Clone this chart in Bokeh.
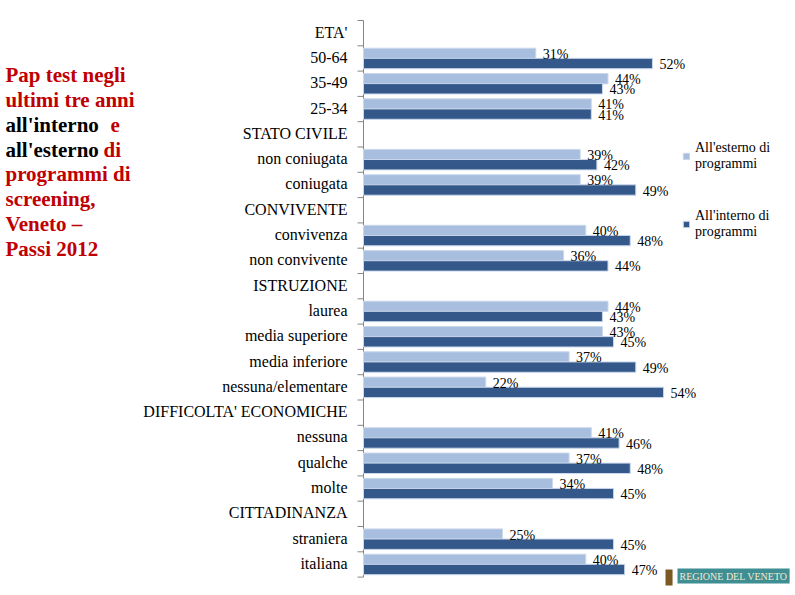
from bokeh.plotting import figure
from bokeh.models import Range1d, ColumnDataSource, Legend, LegendItem, Label
from bokeh.embed import file_html
from bokeh.resources import INLINE
from bokeh.core.properties import value

# ---------------- data ----------------
rows = ["ETA'", "50-64", "35-49", "25-34",
        "STATO CIVILE", "non coniugata", "coniugata",
        "CONVIVENTE", "convivenza", "non convivente",
        "ISTRUZIONE", "laurea", "media superiore", "media inferiore", "nessuna/elementare",
        "DIFFICOLTA' ECONOMICHE", "nessuna", "qualche", "molte",
        "CITTADINANZA", "straniera", "italiana"]

categories = ["50-64", "35-49", "25-34", "non coniugata", "coniugata",
              "convivenza", "non convivente", "laurea", "media superiore",
              "media inferiore", "nessuna/elementare", "nessuna", "qualche",
              "molte", "straniera", "italiana"]
esterno = [31, 44, 41, 39, 39, 40, 36, 44, 43, 37, 22, 41, 37, 34, 25, 40]
interno = [52, 43, 41, 42, 49, 48, 44, 43, 45, 49, 54, 46, 48, 45, 45, 47]

legend_labels = ["All'esterno di\nprogrammi", "All'interno di\nprogrammi"]

title_words = ["Pap test negli", "ultimi tre anni", "all'interno", "e",
               "all'esterno", "di", "programmi di", "screening,",
               "Veneto \u2013", "Passi 2012"]
title_line = [0, 1, 2, 2, 3, 3, 4, 5, 6, 7]
title_dark = [False, False, True, False, True, False, False, False, False, False]

# ---------------- layout / styles ----------------
LIGHT = "#A8BEDF"
DARK = "#34588A"
RED = "#C00000"
AXIS = "#868686"
SERIF = "Liberation Serif"

W, H = 790, 592
AX_X = 363            # pixel position of the value axis (0 %)
TOP = 20              # pixel position of the first row boundary
ROW_PX = 25.3         # pixel height of a row
PX_PER_PCT = 5.557    # pixels per percentage point


def px_x(px):
    return (px - AX_X) / PX_PER_PCT


def px_y(py):
    return -0.5 + (py - TOP) / ROW_PX


p = figure(width=W, height=H,
           x_range=Range1d(px_x(0), px_x(W)),
           y_range=Range1d(px_y(H), px_y(0)),
           min_border=0, toolbar_location=None, output_backend="svg",
           x_axis_location=None, y_axis_location=None)
p.grid.visible = False
p.outline_line_color = None

# ---------------- category axis ----------------
n = len(rows)
bounds = [i - 0.5 for i in range(n + 1)]
p.segment(x0=[0], y0=[bounds[0]], x1=[0], y1=[bounds[-1]], line_color=AXIS, line_width=1)
p.segment(x0=[-6 / PX_PER_PCT] * len(bounds), y0=bounds, x1=[0] * len(bounds), y1=bounds,
          line_color=AXIS, line_width=1)
p.text(x=[0] * n, y=list(range(n)), text=rows, x_offset=-16, y_offset=-1,
       text_align="right", text_baseline="middle", text_color="black",
       text_font=value(SERIF), text_font_size="16px")

# ---------------- bars ----------------
yidx = [rows.index(c) for c in categories]
src = ColumnDataSource(dict(
    y_est=[y - 0.2 for y in yidx],
    y_int=[y + 0.2 for y in yidx],
    est=esterno, inte=interno,
    est_lab=[f"{v}%" for v in esterno],
    int_lab=[f"{v}%" for v in interno],
))

r_est = p.hbar(y="y_est", left=0, right="est", height=0.41, source=src,
               fill_color=LIGHT, line_color="#CAD8EC", line_width=1)
r_int = p.hbar(y="y_int", left=0, right="inte", height=0.41, source=src,
               fill_color=DARK, line_color="#CAD8EC", line_width=1)

p.text(x="est", y="y_est", text="est_lab", source=src, x_offset=7, y_offset=1,
       text_baseline="middle", text_align="left", text_color="black",
       text_font=value(SERIF), text_font_size="14px")
p.text(x="inte", y="y_int", text="int_lab", source=src, x_offset=7, y_offset=1,
       text_baseline="middle", text_align="left", text_color="black",
       text_font=value(SERIF), text_font_size="14px")

# ---------------- legend ----------------
legend = Legend(items=[LegendItem(label=legend_labels[0], renderers=[r_est]),
                       LegendItem(label=legend_labels[1], renderers=[r_int])],
                location=(682, H - 240), orientation="vertical",
                glyph_width=8, glyph_height=8, label_standoff=5,
                spacing=36, padding=0, margin=0,
                border_line_color=None, background_fill_alpha=0,
                label_text_font=SERIF, label_text_font_size="14px",
                label_text_color="black")
p.add_layout(legend)

# ---------------- left title ----------------
word_px = {("all'interno", 2): 5, ("e", 2): 110, ("all'esterno", 3): 5, ("di", 3): 103}
tx = [px_x(word_px.get((w, l), 5)) for w, l in zip(title_words, title_line)]
ty = [px_y(74.7 + 24.8 * l) for l in title_line]
tc = ["#000000" if d else RED for d in title_dark]
p.text(x=tx, y=ty, text=title_words, text_color=tc,
       text_font=value(SERIF), text_font_style="bold", text_font_size="21px",
       text_baseline="alphabetic", text_align="left")

# ---------------- logo-like badge ----------------
p.add_layout(Label(x=665, y=H - 585, x_units="screen", y_units="screen", text=" ",
                   text_font_size="11px", background_fill_color="#7A5A22", padding=2))
p.add_layout(Label(x=677, y=H - 583, x_units="screen", y_units="screen",
                   text="REGIONE DEL VENETO", text_font=SERIF,
                   text_font_size="10px", text_color="#F3EBCF",
                   background_fill_color="#3F8E93", padding=2))

open("out.html", "w").write(file_html(p, INLINE))
